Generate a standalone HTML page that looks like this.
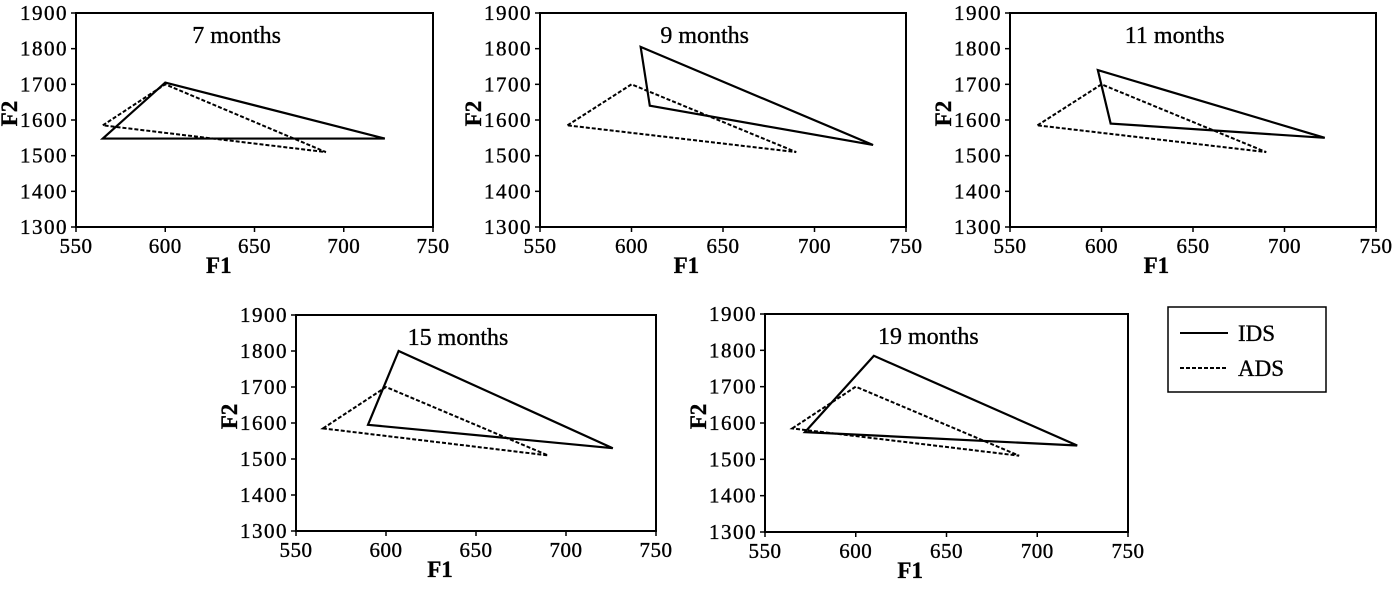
<!DOCTYPE html>
<html><head><meta charset="utf-8"><style>
body{margin:0;background:#fff;width:1400px;height:585px;overflow:hidden}
svg{font-family:"Liberation Serif",serif}
svg text{stroke:#000;stroke-width:0.35px}
</style></head><body>
<svg id="c" width="1400" height="585"></svg>
<script>
const xTicks=[550,600,650,700,750];
const yTicks=[1300,1400,1500,1600,1700,1800,1900];
const panelTitles=["7 months","9 months","11 months","15 months","19 months"];
const adsF1=[565,600,690];
const adsF2=[1585,1700,1510];
const idsF1=[[565,600,723],[605,610,732],[598,605,722],[607,590,726],[610,572,722]];
const idsF2=[[1548,1705,1548],[1805,1640,1530],[1740,1590,1550],[1800,1595,1530],[1785,1575,1538]];
const boxes=[[76,13,433,227],[540,13,906,227],[1010,13,1376,227],[296,315,656,531],[765,314,1128,532]];
const NS="http://www.w3.org/2000/svg";
const svg=document.getElementById('c');
function mk(t,a,p){const e=document.createElementNS(NS,t);for(const k in a)e.setAttribute(k,a[k]);(p||svg).appendChild(e);return e;}
boxes.forEach((b,i)=>{
  const [L,T,R,B]=b;
  const g=mk('g',{});
  
  
  const sx=v=>L+(v-550)/200*(R-L), sy=v=>B-(v-1300)/600*(B-T);
  const r=mk('rect',{x:L,y:T,width:R-L,height:B-T,fill:'none',stroke:'#000','stroke-width':2},g);
  
  
  xTicks.forEach(v=>{mk('line',{x1:sx(v),x2:sx(v),y1:B,y2:B+5,stroke:'#000','stroke-width':1.5},g);
    const t=mk('text',{x:sx(v),y:B+26,'text-anchor':'middle','font-size':21,'letter-spacing':0.5},g);t.textContent=v;
    
    });
  yTicks.forEach(v=>{mk('line',{x1:L-5,x2:L,y1:sy(v),y2:sy(v),stroke:'#000','stroke-width':1.5},g);
    const t=mk('text',{x:L-8,y:sy(v)+7,'text-anchor':'end','font-size':21,'letter-spacing':1.5},g);t.textContent=v;
    
    });
  const xt=mk('text',{x:L+(R-L)*0.4,y:B+46,'text-anchor':'middle','font-size':23,'font-weight':'bold'},g);xt.textContent='F1';
  
  
  const yt=mk('text',{x:0,y:0,'text-anchor':'middle','font-size':23,'font-weight':'bold',transform:`translate(${L-59},${T+(B-T)*0.47}) rotate(-90)`},g);yt.textContent='F2';
  
  
  const tt=mk('text',{x:L+(R-L)*0.45,y:T+30,'text-anchor':'middle','font-size':24},g);tt.textContent=panelTitles[i];
  
  
  const ads=mk('polygon',{points:adsF1.map((v,j)=>sx(v)+','+sy(adsF2[j])).join(' '),fill:'none',stroke:'#000','stroke-width':2,'stroke-dasharray':'4,2'},g);
  
  
  const ids=mk('polygon',{points:idsF1[i].map((v,j)=>sx(v)+','+sy(idsF2[i][j])).join(' '),fill:'none',stroke:'#000','stroke-width':2.2},g);
  
  
});
const lg=mk('g',{});


mk('rect',{x:1168,y:307,width:158,height:85,fill:'none',stroke:'#000','stroke-width':1.5},lg);
mk('line',{x1:1180,x2:1228,y1:333,y2:333,stroke:'#000','stroke-width':2},lg);
mk('line',{x1:1180,x2:1228,y1:368,y2:368,stroke:'#000','stroke-width':2,'stroke-dasharray':'4,2'},lg);
const l1=mk('text',{x:1238,y:341,'font-size':23},lg);l1.textContent='IDS';


const l2=mk('text',{x:1238,y:376,'font-size':23},lg);l2.textContent='ADS';


</script>
</body></html>
